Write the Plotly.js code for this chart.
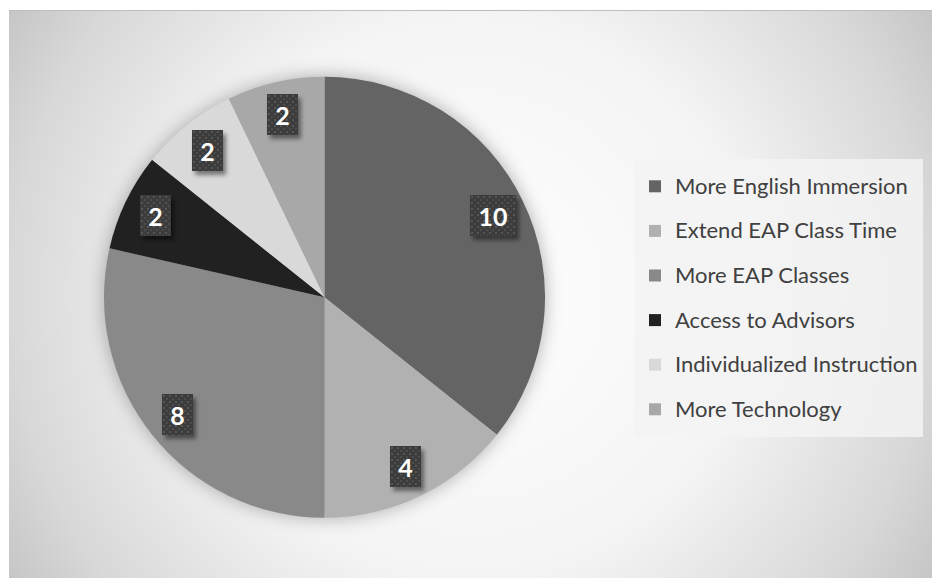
<!DOCTYPE html>
<html><head><meta charset="utf-8">
<script src="https://cdn.plot.ly/plotly-3.0.1.min.js"></script>
<style>
html,body{margin:0;padding:0;background:#fff;overflow:hidden;}
#frame{position:absolute;left:9px;top:10px;width:923px;height:568px;box-sizing:border-box;border-top:1px solid #bdbdbd;
background:radial-gradient(circle farthest-corner at 50% 50%, #ffffff 0%, #f4f4f4 52%, #d8d8d8 85%, #c6c6c6 100%);}
#chart{position:absolute;left:0;top:0;width:932px;height:578px;}
.pielayer .trace{filter:drop-shadow(0px 0px 9px rgba(0,0,0,0.30));}
.annotation rect.bg{fill:url(#dots)!important;filter:drop-shadow(3px 4px 2px rgba(0,0,0,0.45));}
</style>
</head><body>
<svg width="0" height="0" style="position:absolute">
<defs><pattern id="dots" width="6" height="6" patternUnits="userSpaceOnUse">
<rect width="6" height="6" fill="#3c3c3c"/><rect x="1" y="1" width="2" height="2" fill="#565656"/><rect x="4" y="4" width="2" height="2" fill="#4c4c4c"/>
</pattern></defs></svg>
<div id="frame"></div>
<div id="chart"></div>
<script>
// ---- data ----
var categories = ["More English Immersion", "Extend EAP Class Time", "More EAP Classes", "Access to Advisors", "Individualized Instruction", "More Technology"];
var values = [10, 4, 8, 2, 2, 2];
var colors = ["#646464", "#b1b1b1", "#898989", "#212121", "#d9d9d9", "#a8a8a8"];

// ---- layout constants ----
var W = 932, H = 578;
var CX = 324.5, CY = 297.3, R = 220.5;   // pie centre / radius in px
var LABEL_FRAC = 0.85;

var legendLabels = categories.map(function (c) {
  return '<span style="font-size:22px;baseline-shift:5px">' + c + '</span>';
});

var trace = {
  type: 'pie',
  labels: legendLabels,
  values: values,
  sort: false,
  direction: 'clockwise',
  rotation: 0,
  marker: {colors: colors, line: {width: 0}},
  textinfo: 'none',
  hoverinfo: 'skip',
  domain: {x: [(CX - R) / W, (CX + R) / W], y: [1 - (CY + R) / H, 1 - (CY - R) / H]}
};

// data labels placed at each slice's mid-angle
var total = values.reduce(function (a, b) { return a + b; }, 0);
var cum = 0;
var annotations = [];
values.forEach(function (v) {
  var mid = (cum + v / 2) / total * 2 * Math.PI;
  cum += v;
  var px = CX + LABEL_FRAC * R * Math.sin(mid);
  var py = CY - LABEL_FRAC * R * Math.cos(mid);
  var txt = String(v);
  annotations.push({
    xref: 'paper', yref: 'paper', x: px / W, y: 1 - py / H,
    xanchor: 'center', yanchor: 'middle', showarrow: false,
    text: '<b>' + txt + '</b>',
    font: {family: 'Lato', size: 25, color: '#ffffff'},
    bgcolor: '#3e3e3e', borderpad: 0, borderwidth: 0,
    width: 16 + 15 * txt.length, height: 41
  });
});

var layout = {
  width: W, height: H,
  margin: {l: 0, r: 0, t: 0, b: 0},
  paper_bgcolor: 'rgba(0,0,0,0)',
  plot_bgcolor: 'rgba(0,0,0,0)',
  showlegend: true,
  legend: {
    x: 635 / W, xanchor: 'left', y: 1 - 159 / H, yanchor: 'top',
    bgcolor: 'rgba(243,243,243,0.85)', borderwidth: 0,
    font: {family: 'Lato', size: 32, color: '#404040'},
    itemclick: false, itemdoubleclick: false
  },
  annotations: annotations
};

Plotly.newPlot('chart', [trace], layout, {displayModeBar: false, staticPlot: true});
</script>
</body></html>
